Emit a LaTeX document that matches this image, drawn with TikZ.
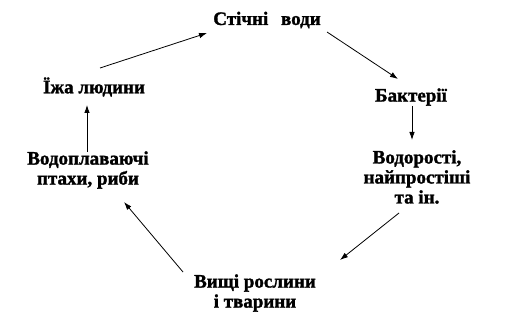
\documentclass[tikz,border=0pt]{standalone}
\usepackage{fontspec}
\setmainfont{Liberation Serif}[BoldFeatures={FakeBold=1.5}]
\usetikzlibrary{arrows.meta}

\begin{document}
\begin{tikzpicture}[x=1pt, y=-1pt,
    label/.style={align=center, inner sep=0pt, font=\bfseries\fontsize{19}{20}\selectfont},
    arr/.style={-{Latex[length=8pt,width=5.5pt]}, line width=0.8pt}]
    \useasboundingbox (0,0) rectangle (505,323);

    % Stages of the cycle
    \node[label] (stichni) at (267, 20) {Стічні\hspace{8pt} води};
    \node[label] (bakt) at (411, 97) {Бактерії};
    \node[label] (vodor) at (417, 177) {Водорості,\\найпростіші\\та ін.};
    \node[label] (vyshchi) at (255, 293) {Вищі рослини\\і тварини};
    \node[label] (vodopl) at (88, 170) {Водоплаваючі\\птахи, риби};
    \node[label] (ijza) at (94, 87) {Їжа людини};

    % Connections
    \draw[arr] ([shift={(60,12)}]stichni.center) -- ([shift={(-13,-18)}]bakt.center);
    \draw[arr] ([shift={(1,9)}]bakt.center) -- ([shift={(-5,-37)}]vodor.center);
    \draw[arr] ([shift={(-18,36)}]vodor.center) -- ([shift={(85,-33)}]vyshchi.center);
    \draw[arr] ([shift={(-72,-21)}]vyshchi.center) -- ([shift={(36,32)}]vodopl.center);
    \draw[arr] ([shift={(-1,-18)}]vodopl.center) -- ([shift={(-7,18)}]ijza.center);
    \draw[arr] ([shift={(6,-19)}]ijza.center) -- ([shift={(-60,13)}]stichni.center);
\end{tikzpicture}
\end{document}
